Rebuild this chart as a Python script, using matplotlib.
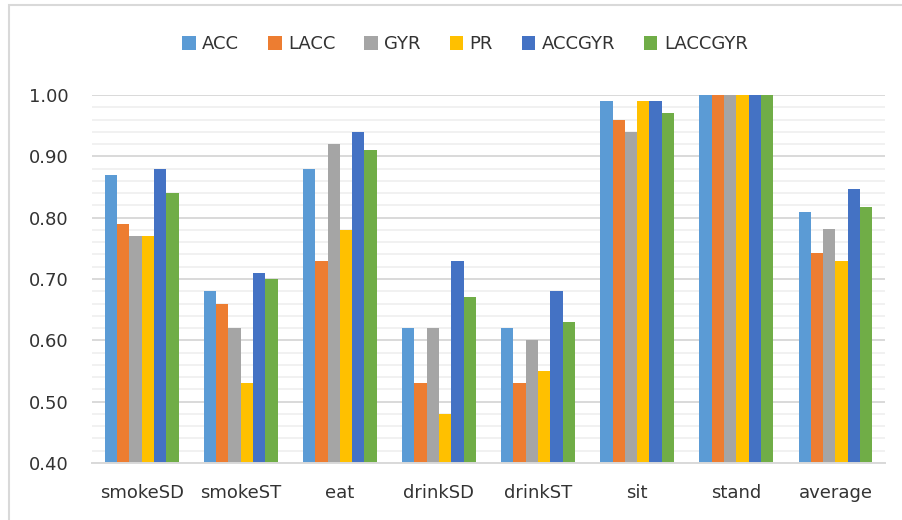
import matplotlib.pyplot as plt
import numpy as np
from matplotlib.patches import Rectangle
from matplotlib.ticker import MultipleLocator

categories = ["smokeSD", "smokeST", "eat", "drinkSD", "drinkST", "sit", "stand", "average"]
series_names = ["ACC", "LACC", "GYR", "PR", "ACCGYR", "LACCGYR"]
acc = [0.87, 0.68, 0.88, 0.62, 0.62, 0.99, 1.00, 0.809]
lacc = [0.79, 0.66, 0.73, 0.53, 0.53, 0.96, 1.00, 0.743]
gyr = [0.77, 0.62, 0.92, 0.62, 0.60, 0.94, 1.00, 0.781]
pr = [0.77, 0.53, 0.78, 0.48, 0.55, 0.99, 1.00, 0.729]
accgyr = [0.88, 0.71, 0.94, 0.73, 0.68, 0.99, 1.00, 0.847]
laccgyr = [0.84, 0.70, 0.91, 0.67, 0.63, 0.97, 1.00, 0.817]
colors = ["#5B9BD5", "#ED7D31", "#A5A5A5", "#FFC000", "#4472C4", "#70AD47"]

plt.rcParams['font.family'] = 'DejaVu Sans'
text_col = '#333333'

fig = plt.figure(figsize=(9.03, 5.2), dpi=100)
ax = fig.add_axes([0.102, 0.1096, 0.878, 0.7077])

x = np.arange(len(categories))
w = 0.124
data = [acc, lacc, gyr, pr, accgyr, laccgyr]
for i, (vals, name, c) in enumerate(zip(data, series_names, colors)):
    ax.bar(x + (i - 2.5) * w, vals, w, color=c, label=name, zorder=3)

ax.set_xlim(-0.5, len(categories) - 0.5)
ax.set_ylim(0.40, 1.00)
ax.yaxis.set_major_locator(MultipleLocator(0.10))
ax.yaxis.set_minor_locator(MultipleLocator(0.02))
ax.set_yticks(np.arange(0.4, 1.001, 0.1))
ax.set_yticklabels(["{:.2f}".format(v) for v in np.arange(0.4, 1.001, 0.1)])
ax.set_xticks(x)
ax.set_xticklabels(categories)
ax.grid(which='minor', axis='y', color='#EFEFEF', linewidth=1.2, zorder=0)
ax.grid(which='major', axis='y', color='#D9D9D9', linewidth=1.4, zorder=1)
ax.tick_params(axis='both', which='both', length=0, labelsize=13, colors=text_col)
ax.tick_params(axis='x', pad=15)
ax.tick_params(axis='y', pad=17)
for s in ['top', 'right', 'left']:
    ax.spines[s].set_visible(False)
ax.spines['bottom'].set_color('#D9D9D9')
ax.spines['bottom'].set_linewidth(1.4)
ax.spines['bottom'].set_zorder(4)

lg = fig.legend(loc='center', bbox_to_anchor=(0.515, 0.915), ncol=6, frameon=False,
                fontsize=13, handlelength=0.75, handleheight=0.75, handletextpad=0.35,
                columnspacing=1.6, labelcolor=text_col)

fig.patches.append(Rectangle((9 / 903, -0.1), 1.2, 1.1 - 5 / 520 + 0.0,
                             transform=fig.transFigure, fill=False,
                             edgecolor='#D9D9D9', linewidth=1.5))

plt.savefig('out.png', dpi=100)
